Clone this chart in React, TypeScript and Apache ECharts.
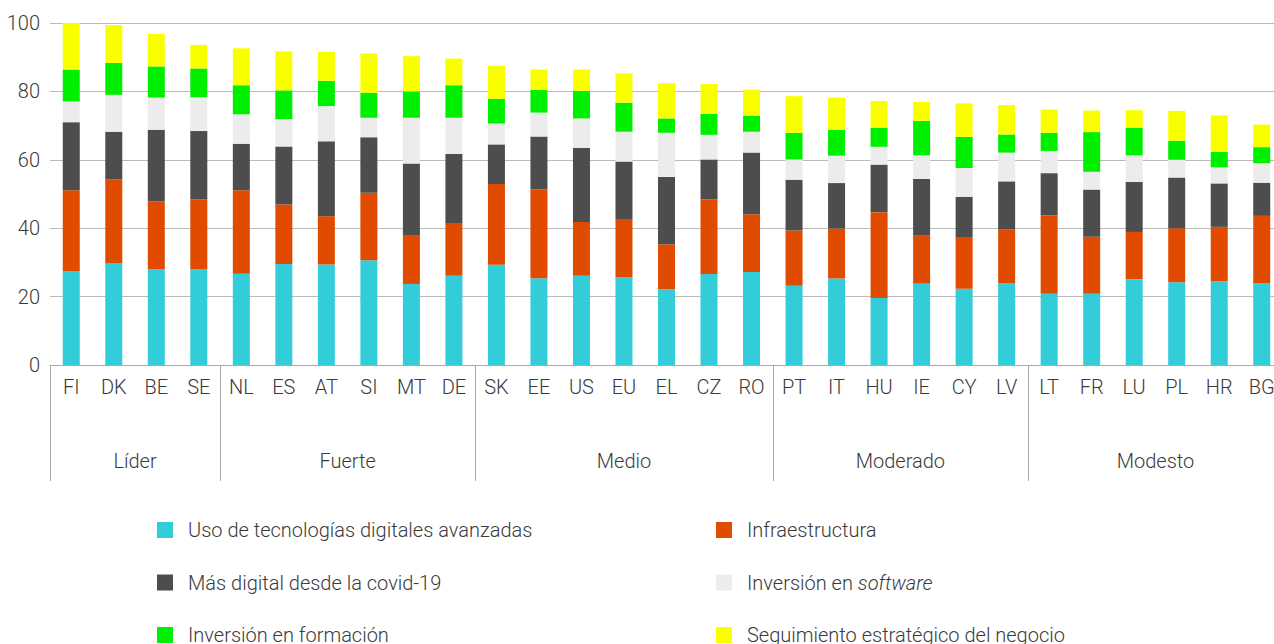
import React, { useEffect, useRef } from "react";
import * as echarts from "echarts";

const categories = ["FI","DK","BE","SE","NL","ES","AT","SI","MT","DE","SK","EE","US","EU","EL","CZ","RO","PT","IT","HU","IE","CY","LV","LT","FR","LU","PL","HR","BG"];

const groupNames = ["Líder", "Fuerte", "Medio", "Moderado", "Modesto"];
const groupSizes = [4, 6, 7, 6, 6];

const seriesNames = [
  "Uso de tecnologías digitales avanzadas",
  "Infraestructura",
  "Más digital desde la covid-19",
  "Inversión en software",
  "Inversión en formación",
  "Seguimiento estratégico del negocio",
];

const usoTecnologias = [27.5,29.7,28.0,28.1,26.7,29.5,29.4,30.6,23.7,26.1,29.3,25.4,26.1,25.6,22.1,26.6,27.2,23.2,25.3,19.6,23.8,22.3,24.0,20.8,20.8,25.1,24.2,24.5,24.0];
const infraestructura = [23.6,24.6,19.8,20.4,24.4,17.4,14.1,19.8,14.1,15.2,23.6,26.0,15.7,17.1,13.2,21.8,16.9,16.1,14.6,25.1,14.2,14.9,15.6,23.0,16.7,13.8,15.8,15.9,19.6];
const masDigital = [19.9,13.9,21.0,19.9,13.6,17.0,21.9,16.2,21.1,20.4,11.6,15.4,21.7,16.8,19.7,11.7,18.0,14.9,13.3,13.9,16.4,12.0,14.1,12.3,13.8,14.6,14.8,12.7,9.7];
const inversionSoftware = [6.1,10.8,9.4,9.9,8.6,8.0,10.3,5.7,13.4,10.6,6.1,7.0,8.6,8.7,12.9,7.2,6.1,5.9,8.0,5.2,6.9,8.4,8.4,6.5,5.2,7.8,5.2,4.7,5.7];
const inversionFormacion = [9.3,9.3,9.1,8.4,8.5,8.4,7.4,7.3,7.7,9.5,7.2,6.6,8.1,8.5,4.2,6.1,4.7,7.8,7.6,5.5,10.1,9.1,5.3,5.3,11.6,8.0,5.6,4.5,4.7];
const seguimiento = [13.6,11.1,9.5,6.9,10.8,11.4,8.5,11.5,10.3,7.8,9.7,6.0,6.2,8.6,10.3,8.8,7.6,10.7,9.4,7.9,5.5,9.8,8.6,6.8,6.3,5.2,8.7,10.7,6.6];

const seriesData = [usoTecnologias, infraestructura, masDigital, inversionSoftware, inversionFormacion, seguimiento];
const colors = ["#33CDDA", "#E14B00", "#4E4D4D", "#ECECEC", "#00EE00", "#FAFF00"];

const yTicks = [0, 20, 40, 60, 80, 100];

const FONT = "Roboto";

export default function App() {
  const ref = useRef<HTMLDivElement>(null);
  useEffect(() => {
    if (!ref.current) return;
    const chart = echarts.init(ref.current, undefined, { renderer: "svg" });

    const bounds: number[] = [0];
    groupSizes.forEach((s) => bounds.push(bounds[bounds.length - 1] + s));
    const centers = groupSizes.map((s, i) => bounds[i] + s / 2);

    const textBase = { fontFamily: FONT, fontWeight: 300 as any, fontSize: 20, color: "#3a3a3a" };

    const legendCommon = {
      orient: "vertical" as const,
      icon: "rect",
      itemWidth: 16,
      itemHeight: 16,
      itemGap: 32.5,
      top: 520,
      height: 220,
      padding: 0,
      textStyle: {
        ...textBase,
        lineHeight: 20,
        padding: [0, 0, 0, 10],
        rich: {
          n: { fontFamily: FONT, fontWeight: 300, fontSize: 20, color: "#3a3a3a", lineHeight: 20 },
          i: { fontFamily: FONT, fontWeight: 300, fontSize: 20, color: "#3a3a3a", fontStyle: "italic", lineHeight: 20 },
        },
      },
      formatter: (name: string) =>
        name === "Inversión en software" ? "{n|Inversión en }{i|software}" : name,
    };

    chart.setOption({
      animation: false,
      backgroundColor: "#ffffff",
      grid: { left: 50, top: 23, right: -9, bottom: 279, containLabel: false, outerBoundsMode: "none" },
      legend: [
        { ...legendCommon, left: 157, data: [seriesNames[0], seriesNames[2], seriesNames[4]] },
        { ...legendCommon, left: 716, data: [seriesNames[1], seriesNames[3], seriesNames[5]] },
      ],
      xAxis: [
        {
          type: "category",
          data: categories,
          position: "bottom",
          axisLine: { show: true, lineStyle: { color: "#aaaaaa", width: 1 } },
          axisTick: { show: false },
          axisLabel: { ...textBase, margin: 12, interval: 0 },
        },
        {
          type: "value",
          min: 0,
          max: categories.length,
          position: "bottom",
          offset: 0,
          axisLine: { show: false },
          splitLine: { show: false },
          axisTick: {
            show: true,
            customValues: bounds,
            length: 116,
            lineStyle: { color: "#aaaaaa", width: 1 },
          },
          axisLabel: {
            ...textBase,
            margin: 86,
            customValues: centers,
            formatter: (v: number) => {
              const idx = centers.findIndex((c) => Math.abs(c - v) < 1e-6);
              return idx >= 0 ? groupNames[idx] : "";
            },
          },
        },
      ],
      yAxis: {
        type: "value",
        min: yTicks[0],
        max: yTicks[yTicks.length - 1],
        interval: 20,
        axisLine: { show: false },
        axisTick: { show: false },
        splitLine: { show: true, lineStyle: { color: "#bbbbbb", width: 1 } },
        axisLabel: { ...textBase, margin: 10 },
      },
      series: seriesNames.map((name, i) => ({
        name,
        type: "bar",
        stack: "total",
        xAxisIndex: 0,
        barWidth: "40%",
        itemStyle: { color: colors[i] },
        emphasis: { disabled: true },
        data: seriesData[i],
      })),
    });
    return () => chart.dispose();
  }, []);
  return (
    <div
      ref={ref}
      style={{ position: "fixed", left: 0, top: 0, width: 1274, height: 644, background: "#fff" }}
    />
  );
}
